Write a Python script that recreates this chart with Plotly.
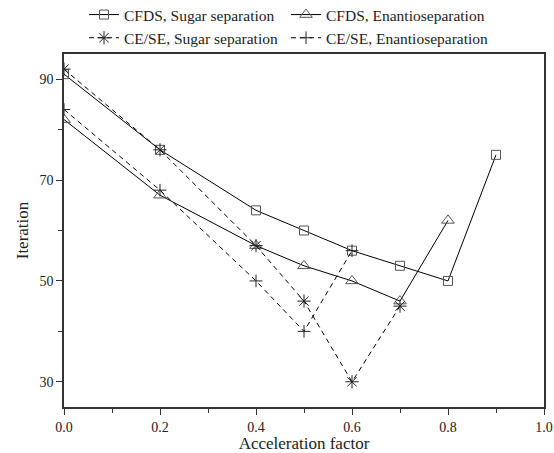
import plotly.graph_objects as go

# Data
x_cfds_sugar = [0.0, 0.2, 0.4, 0.5, 0.6, 0.7, 0.8, 0.9]
y_cfds_sugar = [91, 76, 64, 60, 56, 53, 50, 75]

x_cfds_enantio = [0.0, 0.2, 0.4, 0.5, 0.6, 0.7, 0.8]
y_cfds_enantio = [82, 67, 57, 53, 50, 46, 62]

x_cese_sugar = [0.0, 0.2, 0.4, 0.5, 0.6, 0.7]
y_cese_sugar = [92, 76, 57, 46, 30, 45]

x_cese_enantio = [0.0, 0.2, 0.4, 0.5, 0.6]
y_cese_enantio = [84, 68, 50, 40, 56]

names = ["CFDS, Sugar separation", "CFDS, Enantioseparation",
         "CE/SE, Sugar separation", "CE/SE, Enantioseparation"]

FONT = "Liberation Serif"
MCOL = "#555555"

fig = go.Figure()
fig.add_trace(go.Scatter(
    x=x_cfds_sugar, y=y_cfds_sugar, name=names[0], mode="lines+markers",
    line=dict(color="black", width=1),
    marker=dict(symbol="square-open", size=9, color=MCOL, line=dict(width=1, color=MCOL))))
fig.add_trace(go.Scatter(
    x=x_cfds_enantio, y=y_cfds_enantio, name=names[1], mode="lines+markers",
    line=dict(color="black", width=1),
    marker=dict(symbol="triangle-up-open", size=11, color=MCOL, line=dict(width=1, color=MCOL))))
fig.add_trace(go.Scatter(
    x=x_cese_sugar, y=y_cese_sugar, name=names[2], mode="lines+markers",
    line=dict(color="black", width=1, dash="5px,4px"),
    marker=dict(symbol="asterisk-open", size=11, color="#222222", line=dict(width=1, color="#222222"))))
fig.add_trace(go.Scatter(
    x=x_cese_enantio, y=y_cese_enantio, name=names[3], mode="lines+markers",
    line=dict(color="black", width=1, dash="5px,4px"),
    marker=dict(symbol="cross-thin-open", size=9, color="#222222", line=dict(width=1, color="#222222"))))

axis_common = dict(
    showline=True, linecolor="#333333", linewidth=1.5, mirror=True,
    ticks="outside", ticklen=6, tickwidth=1.2, tickcolor="#333333",
    showgrid=False, zeroline=False,
    tickfont=dict(family=FONT, size=14, color="#222222"),
)

fig.update_xaxes(
    range=[0, 1.0], dtick=0.2, tick0=0, tickformat=".1f",
    minor=dict(dtick=0.1, ticks="outside", ticklen=4, tickwidth=1.2, tickcolor="#333333"),
    title=dict(text="Acceleration factor", font=dict(family=FONT, size=17, color="#222222"), standoff=2),
    **axis_common)
fig.update_yaxes(
    range=[25, 95], dtick=20, tick0=10,
    minor=dict(dtick=10, tick0=0, ticks="outside", ticklen=4, tickwidth=1.2, tickcolor="#333333"),
    title=dict(text="Iteration", font=dict(family=FONT, size=17, color="#222222"), standoff=7),
    **axis_common)

fig.update_layout(
    width=554, height=453,
    margin=dict(l=64, r=10, t=54, b=46, autoexpand=False),
    paper_bgcolor="white", plot_bgcolor="white",
    font=dict(family=FONT, color="#222222"),
    legend=dict(
        orientation="h",
        x=(84 - 64) / 480, xanchor="left", y=1 + 56 / 353, yanchor="top",
        entrywidth=157, entrywidthmode="pixels",
        font=dict(family=FONT, size=15.5, color="#222222"),
        bgcolor="rgba(0,0,0,0)", tracegroupgap=0,
    ),
)

fig.write_html("out.html")
